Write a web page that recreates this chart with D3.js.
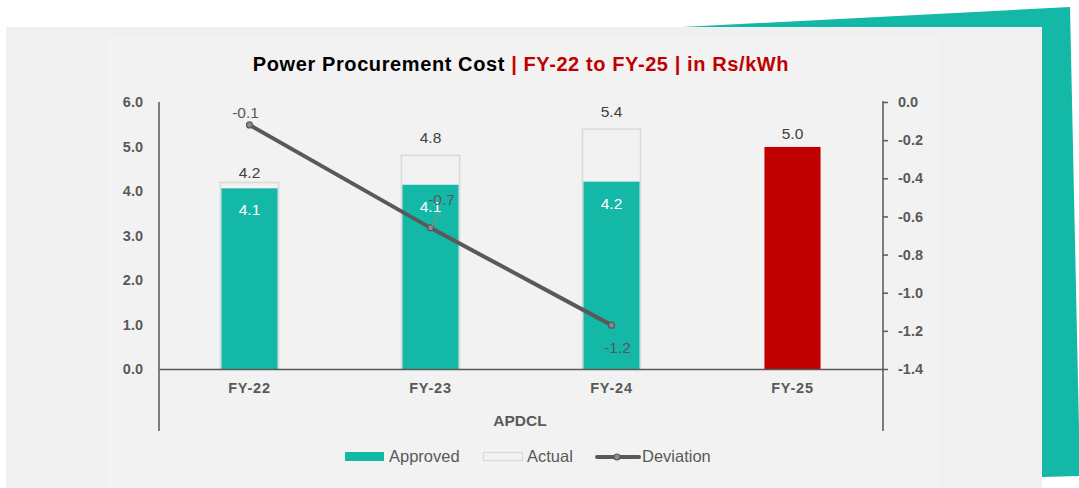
<!DOCTYPE html>
<html>
<head>
<meta charset="utf-8">
<script src="https://cdn.jsdelivr.net/npm/d3@7"></script>
<style>
  html, body { margin: 0; padding: 0; background: #ffffff; }
  svg { display: block; font-family: "Liberation Sans", Arial, sans-serif; }
</style>
</head>
<body>
<svg id="chart" width="1079" height="488"></svg>
<script>
// ---- data ----
const categories = ["FY-22", "FY-23", "FY-24", "FY-25"];
const approved = [4.06, 4.14, 4.21, 4.99];
const actual = [4.19, 4.80, 5.39, null];
const deviation = [-0.12, -0.66, -1.17, null];
const leftTicks = [0, 1, 2, 3, 4, 5, 6];
const rightTicks = [0, -0.2, -0.4, -0.6, -0.8, -1.0, -1.2, -1.4];
const groupLabel = "APDCL";
const seriesNames = ["Approved", "Actual", "Deviation"];
const titleBlack = "Power Procurement Cost ";
const titleRed = "| FY-22 to FY-25 | in Rs/kWh";

// ---- styles ----
const TEAL = "#14b8a6";
const RED = "#c00000";
const AXIS = "#595959";
const LINE = "#595959";

const svg = d3.select("#chart");
const locale = d3.formatLocale({ decimal: ".", thousands: ",", grouping: [3], currency: ["", ""], minus: "-" });
const fmt = locale.format(".1f");

// background decoration
svg.append("polygon")
  .attr("points", "682,27 1070,7 1080,476 1042,477 1042,27")
  .attr("fill", TEAL);
svg.append("rect").attr("x", 6).attr("y", 27).attr("width", 1036).attr("height", 461).attr("fill", "#f0f0f0");
svg.append("rect").attr("x", 106).attr("y", 36).attr("width", 834).attr("height", 452).attr("fill", "#f2f2f2");

// scales
const x = d3.scaleBand().domain(categories).range([159, 883]).paddingInner(0.69).paddingOuter(0.345);
const yL = d3.scaleLinear().domain([0, 6]).range([369, 102]);
const yR = d3.scaleLinear().domain([-1.4, 0]).range([369, 102]);

// title
const title = svg.append("text").attr("x", 521).attr("y", 71).attr("text-anchor", "middle")
  .attr("font-size", 20).attr("letter-spacing", 0.6).attr("font-weight", "bold");
title.append("tspan").attr("fill", "#000").text(titleBlack);
title.append("tspan").attr("fill", RED).text(titleRed);

const tickFont = sel => sel.attr("font-size", 14.5).attr("font-weight", "bold").attr("fill", AXIS)
  .attr("font-family", "Liberation Sans, Arial, sans-serif");

// left axis
const gL = svg.append("g").attr("transform", "translate(159,0)")
  .call(d3.axisLeft(yL).tickValues(leftTicks).tickSize(0).tickPadding(16).tickFormat(fmt));
gL.select(".domain").remove();
gL.selectAll("text").call(tickFont);
svg.append("line").attr("x1", 159).attr("x2", 159).attr("y1", 102).attr("y2", 431)
  .attr("stroke", AXIS).attr("stroke-width", 1.5);

// right axis
const gR = svg.append("g").attr("transform", "translate(883,0)")
  .call(d3.axisRight(yR).tickValues(rightTicks).tickSize(5).tickPadding(10).tickFormat(fmt));
gR.select(".domain").remove();
gR.selectAll("line").attr("stroke", AXIS).attr("stroke-width", 1.5);
gR.selectAll("text").call(tickFont);
svg.append("line").attr("x1", 883).attr("x2", 883).attr("y1", 101).attr("y2", 431)
  .attr("stroke", AXIS).attr("stroke-width", 1.5);

// actual bars (behind)
const bw = x.bandwidth();
svg.selectAll(".actual").data(categories.map((c, i) => ({ c, v: actual[i] })).filter(d => d.v != null))
  .enter().append("rect")
  .attr("x", d => x(d.c) - 1).attr("width", bw + 2)
  .attr("y", d => yL(d.v)).attr("height", d => yL(0) - yL(d.v))
  .attr("fill", "#f2f2f2").attr("stroke", "#d9d9d9").attr("stroke-width", 1.5);

// approved bars
svg.selectAll(".approved").data(categories.map((c, i) => ({ c, v: approved[i], last: i === categories.length - 1 })))
  .enter().append("rect")
  .attr("x", d => x(d.c)).attr("width", bw)
  .attr("y", d => yL(d.v)).attr("height", d => yL(0) - yL(d.v))
  .attr("fill", d => d.last ? RED : TEAL);

// x axis baseline
const gX = svg.append("g").attr("transform", "translate(0,369)")
  .call(d3.axisBottom(x).tickSize(0).tickPadding(14));
gX.select(".domain").attr("stroke", AXIS).attr("stroke-width", 1.5);
gX.selectAll("text").call(tickFont).attr("letter-spacing", 0.8);

svg.append("text").attr("x", 520).attr("y", 426).attr("text-anchor", "middle")
  .attr("font-size", 15.5).attr("font-weight", "bold").attr("fill", AXIS).text(groupLabel);

// bar labels
const actualOffsets = [5, 12, 12];
actual.forEach((v, i) => {
  if (v == null) return;
  svg.append("text").attr("x", x(categories[i]) + bw / 2).attr("y", yL(v) - actualOffsets[i])
    .attr("text-anchor", "middle").attr("font-size", 15.5).attr("fill", "#404040").text(fmt(v));
});
approved.forEach((v, i) => {
  const last = i === categories.length - 1;
  svg.append("text").attr("x", x(categories[i]) + bw / 2).attr("y", last ? yL(v) - 8 : yL(v) + 27)
    .attr("text-anchor", "middle").attr("font-size", 15.5).attr("fill", last ? "#404040" : "#ffffff").text(fmt(v));
});

// deviation line
const devData = categories.map((c, i) => ({ c, v: deviation[i] })).filter(d => d.v != null);
const cx = d => x(d.c) + bw / 2;
svg.append("path").datum(devData)
  .attr("d", d3.line().x(cx).y(d => yR(d.v)))
  .attr("fill", "none").attr("stroke", LINE).attr("stroke-width", 4).attr("stroke-linecap", "round");
svg.selectAll(".dot").data(devData).enter().append("circle")
  .attr("cx", cx).attr("cy", d => yR(d.v)).attr("r", 3)
  .attr("fill", "#8c8c8c").attr("stroke", LINE).attr("stroke-width", 1.2);

// deviation labels
const devLabelPos = [[-4, -7], [11, -23], [6, 28]];
devData.forEach((d, i) => {
  const px = cx(d), py = yR(d.v);
  if (i === 1) {
    svg.append("line").attr("x1", px + 1).attr("y1", py - 1).attr("x2", px + 9).attr("y2", py - 15)
      .attr("stroke", "#8c8c8c").attr("stroke-width", 1.2);
  }
  svg.append("text").attr("x", px + devLabelPos[i][0]).attr("y", py + devLabelPos[i][1])
    .attr("text-anchor", "middle").attr("font-size", 15.5).attr("fill", AXIS).text(fmt(d.v));
});

// legend
const ly = 456;
svg.append("rect").attr("x", 345).attr("y", ly - 4).attr("width", 39).attr("height", 9).attr("fill", TEAL);
svg.append("text").attr("x", 389).attr("y", ly + 6).attr("font-size", 16.5).attr("fill", AXIS).text(seriesNames[0]);
svg.append("rect").attr("x", 483.5).attr("y", ly - 3.5).attr("width", 39).attr("height", 8).attr("fill", "#f2f2f2")
  .attr("stroke", "#d9d9d9").attr("stroke-width", 1.2);
svg.append("text").attr("x", 527).attr("y", ly + 6).attr("font-size", 16.5).attr("fill", AXIS).text(seriesNames[1]);
svg.append("line").attr("x1", 597).attr("x2", 639).attr("y1", ly + 1).attr("y2", ly + 1)
  .attr("stroke", LINE).attr("stroke-width", 4).attr("stroke-linecap", "round");
svg.append("circle").attr("cx", 617).attr("cy", ly + 1).attr("r", 3).attr("fill", "#8c8c8c")
  .attr("stroke", LINE).attr("stroke-width", 1.2);
svg.append("text").attr("x", 642).attr("y", ly + 6).attr("font-size", 16.5).attr("fill", AXIS).text(seriesNames[2]);
</script>
</body>
</html>
